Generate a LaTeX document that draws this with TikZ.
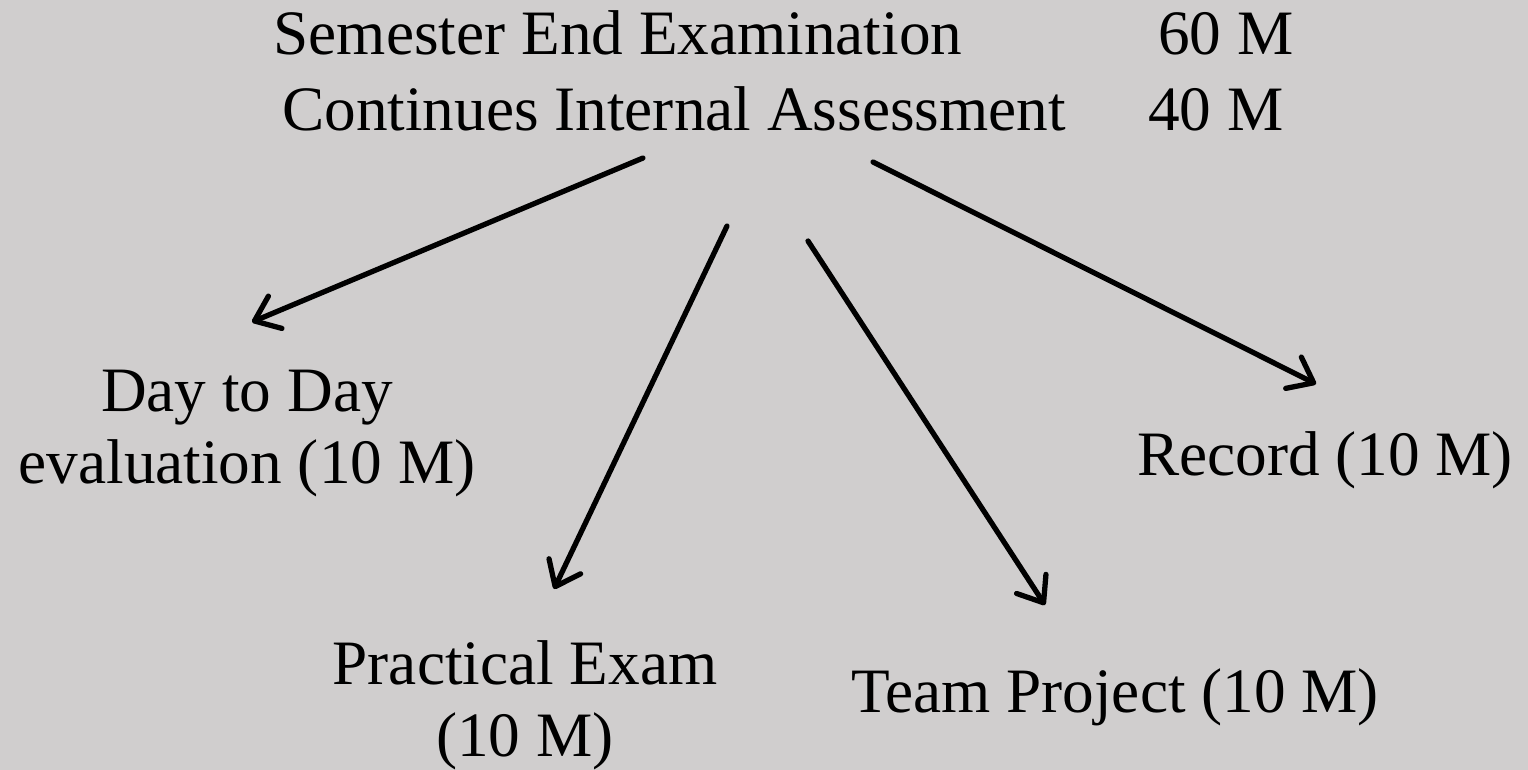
\documentclass[tikz,border=0pt]{standalone}
\usepackage{fontspec}
\setmainfont{Liberation Serif}
\usepackage{xcolor}
\usepackage{tikz}
\usetikzlibrary{arrows.meta, positioning}

\definecolor{slidegray}{RGB}{208,206,206}

\begin{document}
\begin{tikzpicture}[x=0.02cm, y=-0.02cm,
    lbl/.style={inner sep=0pt, font=\fontsize{36}{41}\selectfont, align=center},
    arr/.style={-{Straight Barb[length=4.5mm, width=7mm, round]}, line width=3pt, line cap=round}]
      \fill[slidegray] (0,0) rectangle (1528,770);

      \node[lbl, anchor=base] (see) at (618,55) {Semester End Examination};
      \node[lbl, anchor=base] (seem) at (1226,55) {60 M};
      \node[lbl, anchor=base] (cia) at (674,131) {Continues Internal Assessment};
      \node[lbl, anchor=base] (ciam) at (1216,131) {40 M};

      \node[lbl, anchor=north] (day) at (247,370) {Day to Day\\evaluation (10 M)};
      \node[lbl, anchor=north] (prac) at (525,640) {Practical Exam\\(10 M)};
      \node[lbl, anchor=base] (team) at (1115,712) {Team Project (10 M)};
      \node[lbl, anchor=base] (rec) at (1325,475) {Record (10 M)};

      \coordinate (dayfrom) at (643,158);
      \coordinate (dayto) at (252,322);
      \coordinate (pracfrom) at (727,226);
      \coordinate (practo) at (554,589);
      \coordinate (teamfrom) at (808,241);
      \coordinate (teamto) at (1045,605);
      \coordinate (recfrom) at (873,162);
      \coordinate (recto) at (1316,384);

      \draw[arr] (dayfrom) -- (dayto);
      \draw[arr] (pracfrom) -- (practo);
      \draw[arr] (teamfrom) -- (teamto);
      \draw[arr] (recfrom) -- (recto);
    \end{tikzpicture}
\end{document}
